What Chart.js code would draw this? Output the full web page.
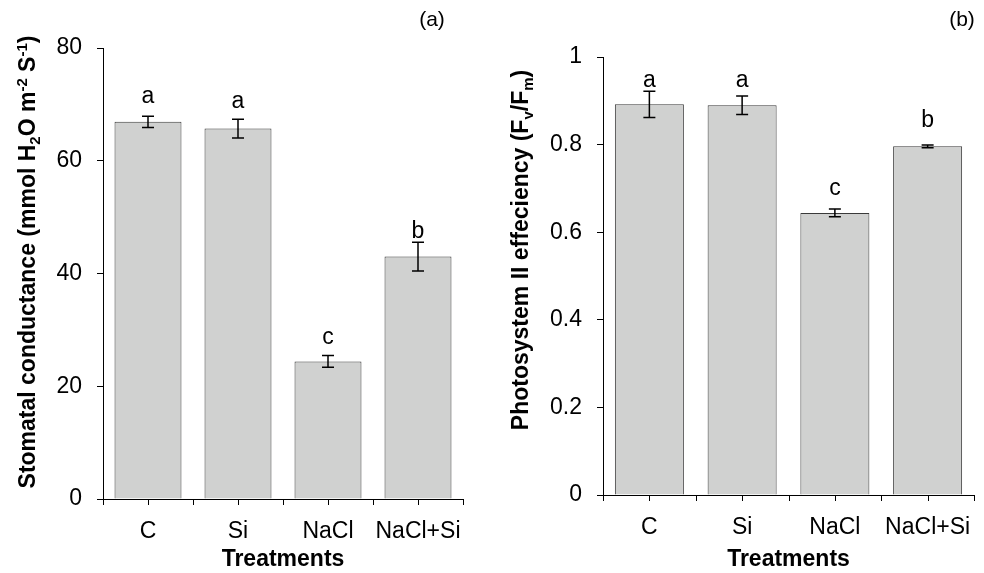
<!DOCTYPE html>
<html><head><meta charset="utf-8">
<script src="https://cdn.jsdelivr.net/npm/chart.js@4.4.1/dist/chart.umd.min.js"></script>
<style>
html,body{margin:0;padding:0;background:#fff;}
#wrap{position:relative;width:984px;height:573px;overflow:hidden;background:#fff;}
.panel{position:absolute;top:0;width:492px;height:573px;}
</style></head><body>
<div id="wrap">
<div class="panel" style="left:0"><canvas id="ca" width="492" height="573"></canvas></div>
<div class="panel" style="left:492px"><canvas id="cb" width="492" height="573"></canvas></div>
</div>
<script>
// ---- data ----
const categories = ['C', 'Si', 'NaCl', 'NaCl+Si'];

const conductance = [66.9, 65.7, 24.4, 43.0];
const conductanceErr = [1.0, 1.65, 1.05, 2.55];
const conductanceLetters = ['a', 'a', 'c', 'b'];
const conductanceLetterAt = [71.4, 70.4, 28.7, 47.4];
const conductanceTicks = [0, 20, 40, 60, 80];

const efficiency = [0.892, 0.890, 0.644, 0.796];
const efficiencyErr = [0.030, 0.021, 0.009, 0.003];
const efficiencyLetters = ['a', 'a', 'c', 'b'];
const efficiencyLetterAt = [0.947, 0.947, 0.700, 0.854];
const efficiencyTicks = [0, 0.2, 0.4, 0.6, 0.8, 1];

const titleA = [{t:'Stomatal conductance (mmol H'},{t:'2',sub:true},{t:'O m'},{t:'-2',sup:true},{t:' S'},{t:'-1',sup:true},{t:')'}];
const titleB = [{t:'Photosystem II effeciency (F'},{t:'v',sub:true},{t:'/F'},{t:'m',sub:true},{t:')'}];

// ---- rendering ----
const FAM = '"Liberation Sans", Arial, Helvetica, sans-serif';
Chart.defaults.font.family = FAM;
Chart.defaults.color = '#000';

function drawRichVertical(ctx, segs, cx, cy, size) {
  const fontFor = s => 'bold ' + ((s.sub || s.sup) ? Math.round(size * 0.65) : size) + 'px ' + FAM;
  let total = 0;
  const widths = segs.map(s => { ctx.font = fontFor(s); const w = ctx.measureText(s.t).width; total += w; return w; });
  ctx.save();
  ctx.translate(cx, cy);
  ctx.rotate(-Math.PI / 2);
  ctx.textAlign = 'left';
  ctx.textBaseline = 'alphabetic';
  ctx.fillStyle = '#000';
  let x = -total / 2;
  const base = size * 0.36;
  segs.forEach((s, i) => {
    ctx.font = fontFor(s);
    const dy = s.sub ? size * 0.22 : (s.sup ? -size * 0.38 : 0);
    ctx.fillText(s.t, x, base + dy);
    x += widths[i];
  });
  ctx.restore();
}

function extras(cfg) {
  return {
    id: 'extras_' + cfg.key,
    afterDatasetsDraw(chart) {
      const ctx = chart.ctx, xs = chart.scales.x, ys = chart.scales.y;
      ctx.save();
      ctx.strokeStyle = '#000';
      ctx.lineWidth = 1.5;
      cfg.values.forEach((v, i) => {
        const cx = xs.getPixelForValue(i);
        const yt = ys.getPixelForValue(v + cfg.err[i]);
        const yb = ys.getPixelForValue(v - cfg.err[i]);
        ctx.beginPath();
        ctx.moveTo(cx, yt); ctx.lineTo(cx, yb);
        ctx.moveTo(cx - 6, yt); ctx.lineTo(cx + 6, yt);
        ctx.moveTo(cx - 6, yb); ctx.lineTo(cx + 6, yb);
        ctx.stroke();
      });
      ctx.fillStyle = '#000';
      ctx.font = '23px ' + FAM;
      ctx.textAlign = 'center';
      ctx.textBaseline = 'middle';
      cfg.letters.forEach((l, i) => {
        ctx.fillText(l, xs.getPixelForValue(i), ys.getPixelForValue(cfg.letterAt[i]));
      });
      ctx.restore();
    },
    afterDraw(chart) {
      const ctx = chart.ctx, xs = chart.scales.x, ys = chart.scales.y;
      ctx.save();
      ctx.strokeStyle = '#000';
      ctx.lineWidth = 1;
      const yb = Math.round(ys.bottom);
      ctx.beginPath();
      for (let i = 0; i <= categories.length; i++) {
        const px = Math.round(xs.getPixelForValue(i - 0.5)) + 0.5;
        ctx.moveTo(px, yb); ctx.lineTo(px, yb + 6);
      }
      for (let i = 0; i < categories.length; i++) {
        const px = Math.round(xs.getPixelForValue(i)) + 0.5;
        ctx.moveTo(px, yb); ctx.lineTo(px, yb + 6);
      }
      ctx.stroke();
      drawRichVertical(ctx, cfg.title, cfg.titleX, cfg.titleY, 23);
      ctx.fillStyle = '#000';
      ctx.font = '21px ' + FAM;
      ctx.textAlign = 'center';
      ctx.textBaseline = 'middle';
      ctx.fillText(cfg.tag, cfg.tagX, cfg.tagY);
      ctx.restore();
    }
  };
}

function makeChart(id, cfg) {
  return new Chart(document.getElementById(id), {
    type: 'bar',
    data: {
      labels: categories,
      datasets: [{
        data: cfg.values,
        backgroundColor: '#d0d1d0',
        borderColor: '#3a3a3a',
        borderWidth: 1,
        categoryPercentage: 0.744,
        barPercentage: 1
      }]
    },
    options: {
      responsive: false,
      animation: false,
      events: [],
      layout: { padding: { left: 0, right: cfg.padRight, top: cfg.padTop, bottom: 0 } },
      plugins: { legend: { display: false }, tooltip: { enabled: false } },
      scales: {
        x: {
          type: 'category',
          offset: true,
          grid: { display: false },
          border: { display: true, color: '#000', width: 1 },
          ticks: { color: '#000', font: { size: 23 }, padding: 11, maxRotation: 0, autoSkip: false },
          title: { display: true, text: 'Treatments', color: '#000', font: { size: 23, weight: 'bold' }, padding: 0 },
          afterFit(s) { s.height = cfg.xHeight; }
        },
        y: {
          min: cfg.ticks[0],
          max: cfg.ticks[cfg.ticks.length - 1],
          afterBuildTicks(s) { s.ticks = cfg.ticks.map(v => ({ value: v })); },
          grid: { drawOnChartArea: false, drawTicks: true, tickLength: 6, color: '#000', lineWidth: 1 },
          border: { display: true, color: '#000', width: 1 },
          ticks: { color: '#000', font: { size: 23 }, padding: 15, callback: v => String(v) },
          afterFit(s) { s.width = cfg.yWidth; }
        }
      }
    },
    plugins: [extras(cfg)]
  });
}

makeChart('ca', {
  key: 'a', values: conductance, err: conductanceErr, letters: conductanceLetters,
  letterAt: conductanceLetterAt, ticks: conductanceTicks, title: titleA,
  titleX: 27, titleY: 262, tag: '(a)', tagX: 432, tagY: 20,
  padRight: 29, padTop: 48, xHeight: 74, yWidth: 103
});
makeChart('cb', {
  key: 'b', values: efficiency, err: efficiencyErr, letters: efficiencyLetters,
  letterAt: efficiencyLetterAt, ticks: efficiencyTicks, title: titleB,
  titleX: 28, titleY: 250, tag: '(b)', tagX: 470, tagY: 20,
  padRight: 10, padTop: 57, xHeight: 78, yWidth: 111
});
</script>
</body></html>
